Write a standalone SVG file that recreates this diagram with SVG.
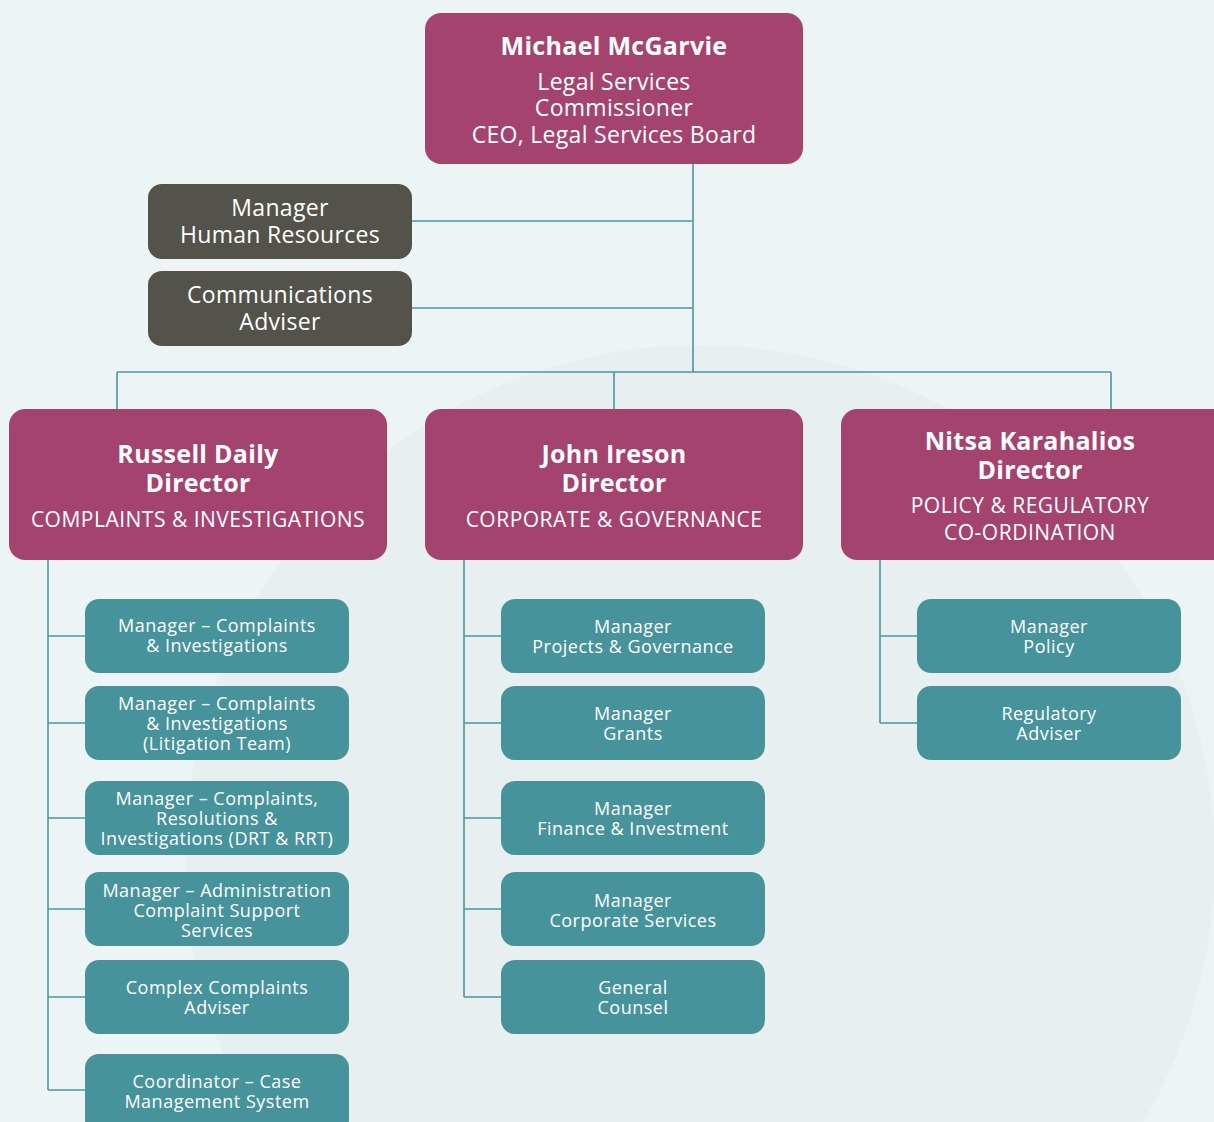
<svg xmlns="http://www.w3.org/2000/svg" width="1214" height="1122" viewBox="0 0 1214 1122">
<style>
text{font-family:"Open Sans","Liberation Sans",sans-serif;fill:#ffffff;text-anchor:middle}
.mag{fill:#a5436f}
.gry{fill:#54534b}
.tel{fill:#46939b}
.nm{font-weight:bold;font-size:25px;letter-spacing:0.3px}
.t22{font-size:23px;letter-spacing:0.3px}
.sub{font-size:21px;letter-spacing:0.5px}
.sm{font-size:18px;letter-spacing:0.5px}
.ln{stroke:#4a979f;stroke-width:1.6;fill:none}
</style>
<rect width="1214" height="1122" fill="#edf4f6"/>
<circle cx="700" cy="860" r="515" fill="#e7eff1"/>
<g id="connectors" class="ln">
<path d="M693 164V372M412 221H693M412 308H693M117 372H1111M117 372V409M614 372V409M1111 372V409"/>
<path d="M48 560V1090M48 636H85M48 723H85M48 818H85M48 909H85M48 997H85M48 1090H85"/>
<path d="M464 560V997M464 636H501M464 723H501M464 818H501M464 909H501M464 997H501"/>
<path d="M880 560V723M880 636H917M880 723H917"/>
</g>
<g id="ceo"><rect class="mag" x="425" y="13" width="378" height="151" rx="16"/>
<text class="nm" x="614" y="55">Michael McGarvie</text>
<text class="t22" x="614" y="90">Legal Services</text>
<text class="t22" x="614" y="116">Commissioner</text>
<text class="t22" x="614" y="143">CEO, Legal Services Board</text></g>
<g id="hr"><rect class="gry" x="148" y="184" width="264" height="75" rx="14"/>
<text class="t22" x="280" y="216">Manager</text>
<text class="t22" x="280" y="243">Human Resources</text></g>
<g id="comms"><rect class="gry" x="148" y="271" width="264" height="75" rx="14"/>
<text class="t22" x="280" y="303">Communications</text>
<text class="t22" x="280" y="330">Adviser</text></g>
<g id="dir1"><rect class="mag" x="9" y="409" width="378" height="151" rx="16"/>
<text class="nm" x="198" y="463">Russell Daily</text>
<text class="nm" x="198" y="492">Director</text>
<text class="sub" x="198" y="527">COMPLAINTS &amp; INVESTIGATIONS</text></g>
<g id="dir2"><rect class="mag" x="425" y="409" width="378" height="151" rx="16"/>
<text class="nm" x="614" y="463">John Ireson</text>
<text class="nm" x="614" y="492">Director</text>
<text class="sub" x="614" y="527">CORPORATE &amp; GOVERNANCE</text></g>
<g id="dir3"><rect class="mag" x="841" y="409" width="390" height="151" rx="16"/>
<text class="nm" x="1030" y="450">Nitsa Karahalios</text>
<text class="nm" x="1030" y="479">Director</text>
<text class="sub" x="1030" y="513">POLICY &amp; REGULATORY</text>
<text class="sub" x="1030" y="540">CO-ORDINATION</text></g>
<g id="c1"><rect class="tel" x="85" y="599" width="264" height="74" rx="14"/>
<text class="sm" x="217" y="632">Manager – Complaints</text>
<text class="sm" x="217" y="652">&amp; Investigations</text></g>
<g id="c2"><rect class="tel" x="85" y="686" width="264" height="74" rx="14"/>
<text class="sm" x="217" y="710">Manager – Complaints</text>
<text class="sm" x="217" y="730">&amp; Investigations</text>
<text class="sm" x="217" y="750">(Litigation Team)</text></g>
<g id="c3"><rect class="tel" x="85" y="781" width="264" height="74" rx="14"/>
<text class="sm" x="217" y="805">Manager – Complaints,</text>
<text class="sm" x="217" y="825">Resolutions &amp;</text>
<text class="sm" x="217" y="845">Investigations (DRT &amp; RRT)</text></g>
<g id="c4"><rect class="tel" x="85" y="872" width="264" height="74" rx="14"/>
<text class="sm" x="217" y="897">Manager – Administration</text>
<text class="sm" x="217" y="917">Complaint Support</text>
<text class="sm" x="217" y="937">Services</text></g>
<g id="c5"><rect class="tel" x="85" y="960" width="264" height="74" rx="14"/>
<text class="sm" x="217" y="994">Complex Complaints</text>
<text class="sm" x="217" y="1014">Adviser</text></g>
<g id="c6"><rect class="tel" x="85" y="1054" width="264" height="80" rx="14"/>
<text class="sm" x="217" y="1088">Coordinator – Case</text>
<text class="sm" x="217" y="1108">Management System</text></g>
<g id="d1"><rect class="tel" x="501" y="599" width="264" height="74" rx="14"/>
<text class="sm" x="633" y="633">Manager</text>
<text class="sm" x="633" y="653">Projects &amp; Governance</text></g>
<g id="d2"><rect class="tel" x="501" y="686" width="264" height="74" rx="14"/>
<text class="sm" x="633" y="720">Manager</text>
<text class="sm" x="633" y="740">Grants</text></g>
<g id="d3"><rect class="tel" x="501" y="781" width="264" height="74" rx="14"/>
<text class="sm" x="633" y="815">Manager</text>
<text class="sm" x="633" y="835">Finance &amp; Investment</text></g>
<g id="d4"><rect class="tel" x="501" y="872" width="264" height="74" rx="14"/>
<text class="sm" x="633" y="907">Manager</text>
<text class="sm" x="633" y="927">Corporate Services</text></g>
<g id="d5"><rect class="tel" x="501" y="960" width="264" height="74" rx="14"/>
<text class="sm" x="633" y="994">General</text>
<text class="sm" x="633" y="1014">Counsel</text></g>
<g id="e1"><rect class="tel" x="917" y="599" width="264" height="74" rx="14"/>
<text class="sm" x="1049" y="633">Manager</text>
<text class="sm" x="1049" y="653">Policy</text></g>
<g id="e2"><rect class="tel" x="917" y="686" width="264" height="74" rx="14"/>
<text class="sm" x="1049" y="720">Regulatory</text>
<text class="sm" x="1049" y="740">Adviser</text></g>
</svg>
